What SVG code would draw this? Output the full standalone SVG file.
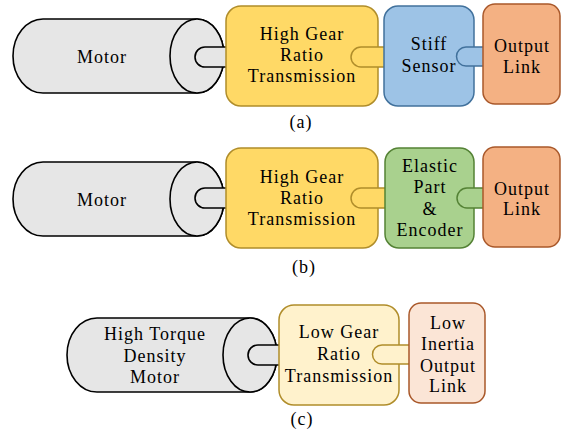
<svg xmlns="http://www.w3.org/2000/svg" width="562" height="436" viewBox="0 0 562 436">
<style>
text{font-family:'Liberation Serif','Times New Roman',serif;font-size:18px;letter-spacing:1px;fill:#000;text-anchor:middle}
.motor{fill:#E6E6E6;stroke:#000;stroke-width:1.6}
.yel{fill:#FFD966;stroke:#B08D2A;stroke-width:1.5}
.blu{fill:#9DC3E6;stroke:#41719C;stroke-width:1.5}
.org{fill:#F4B183;stroke:#A9582A;stroke-width:1.5}
.grn{fill:#A9D18E;stroke:#548235;stroke-width:1.5}
.lyel{fill:#FFF2CC;stroke:#B08D2A;stroke-width:1.5}
.pnk{fill:#FBE5D6;stroke:#A9582A;stroke-width:1.5}
</style>
<rect width="562" height="436" fill="#fff"/>

<!-- Panel (a) -->
<g id="a-motor">
<path class="motor" d="M43 19 H197 A27 37 0 0 1 197 93 H43 A30 37 0 0 1 43 19 Z"/>
<ellipse class="motor" cx="197" cy="56" rx="27" ry="37"/>
<text x="102" y="63">Motor</text>
</g>
<g id="a-connectors">
<path class="motor" d="M227 47 H205 A10 10 0 0 0 205 67 H227"/>
</g>
<g id="a-trans">
<rect class="yel" x="226" y="6" width="152" height="100" rx="15"/>
<text x="302" y="40">High Gear</text>
<text x="302" y="61">Ratio</text>
<text x="302" y="82">Transmission</text>
</g>
<g id="a-shaft1">
<path class="yel" d="M385 47 H361 A10 10 0 0 0 361 67 H385"/>
</g>
<g id="a-sensor">
<rect class="blu" x="384" y="6" width="90" height="100" rx="14"/>
<text x="429" y="50">Stiff</text>
<text x="429" y="72">Sensor</text>
</g>
<g id="a-shaft2">
<path class="blu" d="M484 47 H466 A9.5 9.5 0 0 0 466 66 H484"/>
</g>
<g id="a-output">
<rect class="org" x="483" y="4" width="77" height="100" rx="12"/>
<text x="522" y="52">Output</text>
<text x="522" y="73">Link</text>
</g>
<text id="a-label" x="301" y="128">(a)</text>

<!-- Panel (b) -->
<g id="b-motor">
<path class="motor" d="M43 162 H197 A27 37 0 0 1 197 236 H43 A30 37 0 0 1 43 162 Z"/>
<ellipse class="motor" cx="197" cy="199" rx="27" ry="37"/>
<text x="102" y="206">Motor</text>
</g>
<g id="b-connectors">
<path class="motor" d="M227 188 H205 A10 10 0 0 0 205 208 H227"/>
</g>
<g id="b-trans">
<rect class="yel" x="226" y="148" width="152" height="100" rx="15"/>
<text x="302" y="183">High Gear</text>
<text x="302" y="204">Ratio</text>
<text x="302" y="225">Transmission</text>
</g>
<g id="b-shaft1">
<path class="yel" d="M386 188 H361 A10 10 0 0 0 361 208 H386"/>
</g>
<g id="b-elastic">
<rect class="grn" x="385" y="148" width="89" height="100" rx="14"/>
<text x="430" y="172">Elastic</text>
<text x="430" y="193">Part</text>
<text x="430" y="215">&amp;</text>
<text x="430" y="236">Encoder</text>
</g>
<g id="b-shaft2">
<path class="grn" d="M484 188 H467 A10 10 0 0 0 467 208 H484"/>
</g>
<g id="b-output">
<rect class="org" x="483" y="147" width="77" height="100" rx="12"/>
<text x="522" y="195">Output</text>
<text x="522" y="215">Link</text>
</g>
<text id="b-label" x="304" y="273">(b)</text>

<!-- Panel (c) -->
<g id="c-motor">
<path class="motor" d="M97 318 H250 A27 37 0 0 1 250 392 H97 A30 37 0 0 1 97 318 Z"/>
<ellipse class="motor" cx="250" cy="355" rx="27" ry="37"/>
<text x="155" y="340">High Torque</text>
<text x="155" y="362">Density</text>
<text x="155" y="383">Motor</text>
</g>
<g id="c-connectors">
<path class="motor" d="M280 345 H258 A10 10 0 0 0 258 365 H280"/>
</g>
<g id="c-trans">
<rect class="lyel" x="279" y="305" width="120" height="100" rx="15"/>
<text x="339" y="338">Low Gear</text>
<text x="339" y="360">Ratio</text>
<text x="339" y="382">Transmission</text>
</g>
<g id="c-shaft1">
<path class="lyel" d="M410 345 H382 A9.5 9.5 0 0 0 382 364 H410"/>
</g>
<g id="c-output">
<rect class="pnk" x="409" y="303" width="76" height="100" rx="12"/>
<text x="448" y="329">Low</text>
<text x="448" y="350">Inertia</text>
<text x="448" y="372">Output</text>
<text x="448" y="392">Link</text>
</g>
<text id="c-label" x="302" y="425">(c)</text>
</svg>
